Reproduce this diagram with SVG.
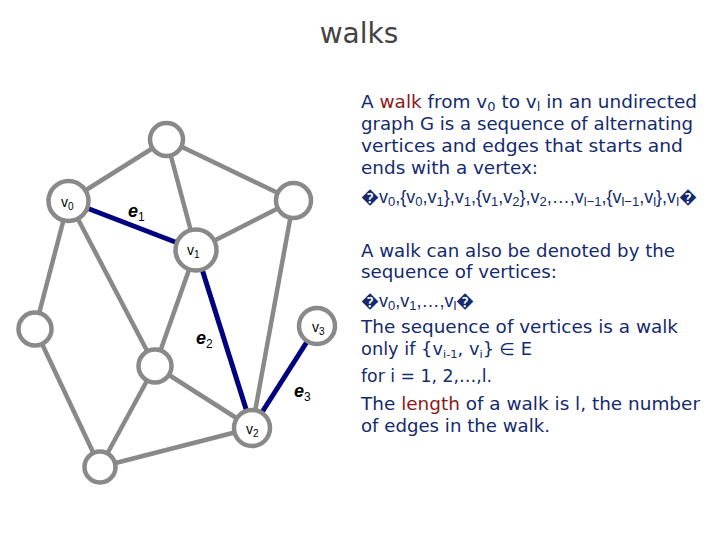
<svg xmlns="http://www.w3.org/2000/svg" width="720" height="540" viewBox="0 0 720 540">
<style>
.edge{stroke:#898989;stroke-width:4.5;fill:none}
.walk{stroke:#000080;stroke-width:5;fill:none}
.node{fill:#fff;stroke:#898989;stroke-width:4.5}
.nl{font-family:"Liberation Sans",Arial,sans-serif;font-size:14px;fill:#000}
.nl .s{font-size:10px}
.el{font-family:"Liberation Sans",Arial,sans-serif;font-size:18px;font-weight:bold;font-style:italic;fill:#000}
.el .s{font-size:12px;font-weight:normal;font-style:normal}
.t{font-family:"DejaVu Sans","Liberation Sans",sans-serif;font-size:17px;fill:#142a6e}
.m{font-family:"Liberation Sans",Arial,sans-serif;font-size:18px;fill:#142a6e}
.m .s{font-size:13px}
.r{fill:#8b1a1a}
.title{font-family:"DejaVu Sans","Liberation Sans",sans-serif;font-size:28px;fill:#444}
</style>
<rect width="720" height="540" fill="#fff"/>
<text class="title" x="359" y="43" text-anchor="middle">walks</text>
<g id="connectors">
<line class="edge" x1="166.5" y1="139.5" x2="68.5" y2="201"/>
<line class="edge" x1="166.5" y1="139.5" x2="293.5" y2="200.5"/>
<line class="edge" x1="166.5" y1="139.5" x2="196" y2="250"/>
<line class="edge" x1="196" y1="250" x2="293.5" y2="200.5"/>
<line class="edge" x1="68.5" y1="201" x2="35" y2="329"/>
<line class="edge" x1="68.5" y1="201" x2="155" y2="366"/>
<line class="edge" x1="196" y1="250" x2="155" y2="366"/>
<line class="edge" x1="293.5" y1="200.5" x2="252" y2="428"/>
<line class="edge" x1="35" y1="329" x2="100" y2="467"/>
<line class="edge" x1="155" y1="366" x2="100" y2="467"/>
<line class="edge" x1="155" y1="366" x2="252" y2="428"/>
<line class="edge" x1="100" y1="467" x2="252" y2="428"/>
<line class="walk" x1="68.5" y1="201" x2="196" y2="250"/>
<line class="walk" x1="196" y1="250" x2="252" y2="428"/>
<line class="walk" x1="252" y1="428" x2="317" y2="326"/>
</g>
<g id="n-top"><circle class="node" cx="166.5" cy="139.5" r="16.5"/></g>
<g id="n-v0"><circle class="node" cx="68.5" cy="201" r="20"/><text class="nl" x="61" y="207">v<tspan class="s" dy="3">0</tspan></text></g>
<g id="n-right"><circle class="node" cx="293.5" cy="200.5" r="17.5"/></g>
<g id="n-v1"><circle class="node" cx="196" cy="250" r="20.5"/><text class="nl" x="187" y="255">v<tspan class="s" dy="3">1</tspan></text></g>
<g id="n-left"><circle class="node" cx="35" cy="329" r="16.5"/></g>
<g id="n-mid"><circle class="node" cx="155" cy="366" r="16.5"/></g>
<g id="n-v3"><circle class="node" cx="317" cy="326" r="18"/><text class="nl" x="312" y="332">v<tspan class="s" dy="3">3</tspan></text></g>
<g id="n-v2"><circle class="node" cx="252" cy="428" r="18"/><text class="nl" x="246" y="434">v<tspan class="s" dy="3">2</tspan></text></g>
<g id="n-bottom"><circle class="node" cx="100" cy="467" r="15.5"/></g>
<g id="edge-labels">
<text class="el" x="128" y="217">e<tspan class="s" dy="4">1</tspan></text>
<text class="el" x="196" y="344">e<tspan class="s" dy="4">2</tspan></text>
<text class="el" x="294" y="397">e<tspan class="s" dy="4">3</tspan></text>
</g>
<g id="text">
<text class="t" x="361" y="108" textLength="336" lengthAdjust="spacingAndGlyphs">A <tspan class="r">walk</tspan> from v<tspan font-size="12" dy="3">0</tspan><tspan dy="-3"> to v</tspan><tspan font-size="12" dy="3">l</tspan><tspan dy="-3"> in an undirected</tspan></text>
<text class="t" x="361" y="130" textLength="332" lengthAdjust="spacingAndGlyphs">graph G is a sequence of alternating</text>
<text class="t" x="361" y="152" textLength="322" lengthAdjust="spacingAndGlyphs">vertices and edges that starts and</text>
<text class="t" x="361" y="174" textLength="177" lengthAdjust="spacingAndGlyphs">ends with a vertex:</text>
<text class="m" x="361" y="203">�v<tspan class="s" dy="3">0</tspan><tspan dy="-3">,{v</tspan><tspan class="s" dy="3">0</tspan><tspan dy="-3">,v</tspan><tspan class="s" dy="3">1</tspan><tspan dy="-3">},v</tspan><tspan class="s" dy="3">1</tspan><tspan dy="-3">,{v</tspan><tspan class="s" dy="3">1</tspan><tspan dy="-3">,v</tspan><tspan class="s" dy="3">2</tspan><tspan dy="-3">},v</tspan><tspan class="s" dy="3">2</tspan><tspan dy="-3">,…,v</tspan><tspan class="s" font-size="11" dy="3">l−1</tspan><tspan dy="-3">,{v</tspan><tspan class="s" font-size="11" dy="3">l−1</tspan><tspan dy="-3">,v</tspan><tspan class="s" dy="3">l</tspan><tspan dy="-3">},v</tspan><tspan class="s" dy="3">l</tspan><tspan dy="-3">�</tspan></text>
<text class="t" x="361" y="257" textLength="314" lengthAdjust="spacingAndGlyphs">A walk can also be denoted by the</text>
<text class="t" x="361" y="278" textLength="196" lengthAdjust="spacingAndGlyphs">sequence of vertices:</text>
<text class="m" x="361" y="307">�v<tspan class="s" dy="3">0</tspan><tspan dy="-3">,v</tspan><tspan class="s" dy="3">1</tspan><tspan dy="-3">,…,v</tspan><tspan class="s" dy="3">l</tspan><tspan dy="-3">�</tspan></text>
<text class="t" x="361" y="333" textLength="317" lengthAdjust="spacingAndGlyphs">The sequence of vertices is a walk</text>
<text class="t" x="361" y="355" textLength="171" lengthAdjust="spacingAndGlyphs">only if {v<tspan font-size="11" dy="3">i-1</tspan><tspan dy="-3">, v</tspan><tspan font-size="11" dy="3">i</tspan><tspan dy="-3">} ∈ E</tspan></text>
<text class="t" x="361" y="382" textLength="131" lengthAdjust="spacingAndGlyphs">for i = 1, 2,…,l.</text>
<text class="t" x="361" y="410" textLength="339" lengthAdjust="spacingAndGlyphs">The <tspan class="r">length</tspan> of a walk is l, the number</text>
<text class="t" x="361" y="432" textLength="189" lengthAdjust="spacingAndGlyphs">of edges in the walk.</text>
</g>
</svg>
